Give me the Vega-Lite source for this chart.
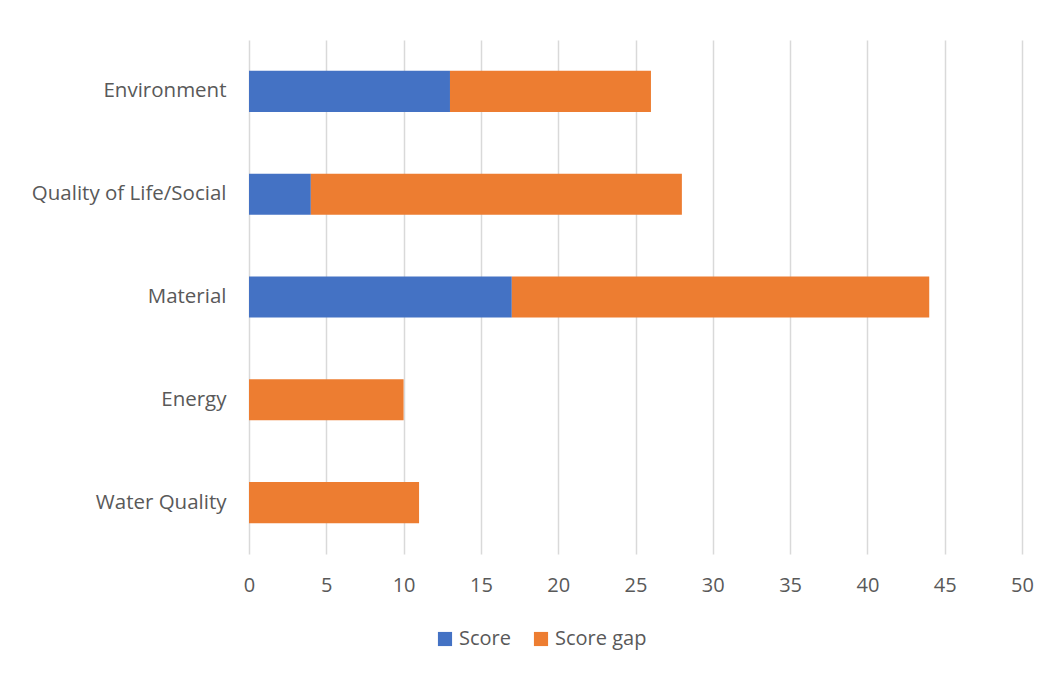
{
  "$schema": "https://vega.github.io/schema/vega-lite/v6.json",
  "autosize": {"type": "none"},
  "width": 773,
  "height": 514,
  "padding": {"left": 249, "top": 40, "right": 30, "bottom": 121},
  "background": "#ffffff",
  "data": {
    "values": [
      {"category": "Environment", "series": "Score", "order": 1, "value": 13},
      {"category": "Environment", "series": "Score gap", "order": 2, "value": 13},
      {"category": "Quality of Life/Social", "series": "Score", "order": 1, "value": 4},
      {"category": "Quality of Life/Social", "series": "Score gap", "order": 2, "value": 24},
      {"category": "Material", "series": "Score", "order": 1, "value": 17},
      {"category": "Material", "series": "Score gap", "order": 2, "value": 27},
      {"category": "Energy", "series": "Score", "order": 1, "value": 0},
      {"category": "Energy", "series": "Score gap", "order": 2, "value": 10},
      {"category": "Water Quality", "series": "Score", "order": 1, "value": 0},
      {"category": "Water Quality", "series": "Score gap", "order": 2, "value": 11}
    ]
  },
  "mark": {"type": "bar", "stroke": null},
  "encoding": {
    "y": {
      "field": "category",
      "type": "nominal",
      "sort": ["Environment", "Quality of Life/Social", "Material", "Energy", "Water Quality"],
      "scale": {"paddingInner": 0.6, "paddingOuter": 0.3},
      "axis": {
        "title": null,
        "domain": false,
        "ticks": false,
        "grid": false,
        "labelPadding": 23,
        "labelLimit": 0,
        "labelFont": "Open Sans",
        "labelFontSize": 20.5,
        "labelColor": "#595959"
      }
    },
    "x": {
      "field": "value",
      "type": "quantitative",
      "stack": "zero",
      "scale": {"domain": [0, 50], "nice": false},
      "axis": {
        "title": null,
        "values": [0, 5, 10, 15, 20, 25, 30, 35, 40, 45, 50],
        "domain": false,
        "ticks": false,
        "grid": true,
        "gridColor": "#d9d9d9",
        "gridWidth": 1.5,
        "labelPadding": 21,
        "labelFont": "Open Sans",
        "labelFontSize": 20,
        "labelColor": "#595959",
        "labelFlush": false
      }
    },
    "color": {
      "field": "series",
      "type": "nominal",
      "scale": {"domain": ["Score", "Score gap"], "range": ["#4472c4", "#ed7d31"]},
      "legend": {
        "title": null,
        "orient": "none",
        "direction": "horizontal",
        "legendX": 186,
        "legendY": 589,
        "symbolType": "square",
        "symbolSize": 200,
        "symbolStrokeWidth": 0,
        "columnPadding": 20,
        "labelOffset": 4,
        "labelFont": "Open Sans",
        "labelFontSize": 20,
        "labelColor": "#595959"
      }
    },
    "order": {"field": "order", "type": "quantitative"}
  },
  "config": {
    "view": {"stroke": null}
  }
}
